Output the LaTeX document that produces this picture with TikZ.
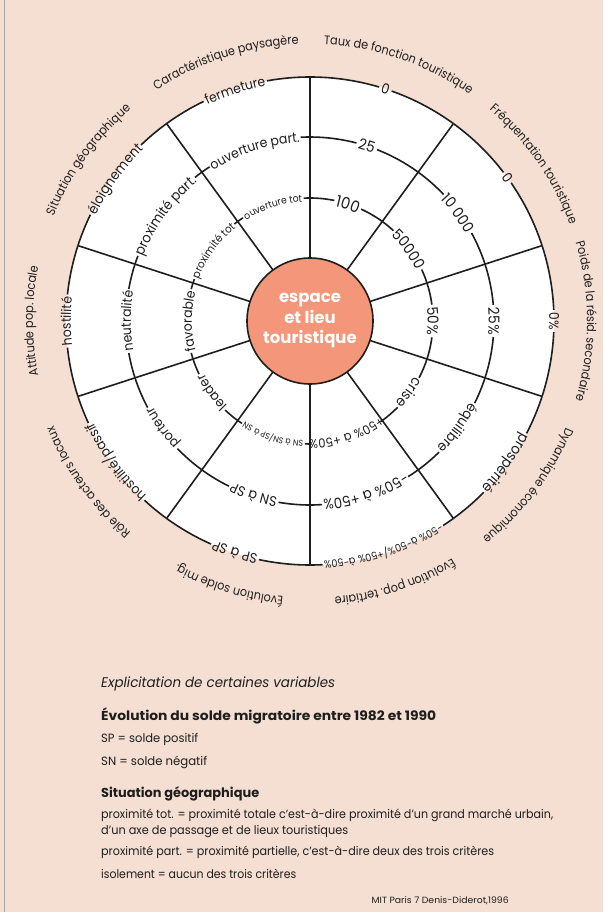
\documentclass[tikz,border=0pt]{standalone}
\usepackage{fontspec}
\usepackage{graphicx}
\setmainfont{Poppins}
\newfontfamily\ringfont[FakeStretch=0.92]{Poppins}
\newfontfamily\catfont[FakeStretch=0.9]{Poppins}
\usetikzlibrary{decorations.text}
\definecolor{bgpeach}{HTML}{F5DFD2}
\definecolor{salmon}{HTML}{F39679}
\definecolor{inkc}{HTML}{1E1E1E}
\newdimen\labw
\newcommand\ringlab[4]{%
  \pgfinterruptpicture
    \setbox0=\hbox{\ringfont\fontsize{#3}{#3}\selectfont #4}%
    \global\labw=\wd0
  \endpgfinterruptpicture
  \pgfmathsetmacro\myha{min((\labw/2+2.5)/#2*57.29578,17.2)}%
  \pgfmathsetmacro\mysa{#1+18}\pgfmathsetmacro\mysb{#1+\myha}%
  \pgfmathsetmacro\mysc{#1-\myha}\pgfmathsetmacro\mysd{#1-18}%
  \draw[ring] (C) ++(\mysa:#2) arc[start angle=\mysa, end angle=\mysb, radius=#2];
  \draw[ring] (C) ++(\mysc:#2) arc[start angle=\mysc, end angle=\mysd, radius=#2];
  \pgfmathsetmacro\myrb{#2-0.36*#3}%
  \pgfmathsetmacro\mypa{#1+40}\pgfmathsetmacro\mypb{#1-40}%
  \path[decorate, decoration={text along path, text align=center,
     text color=inkc, text={|\ringfont\fontsize{#3}{#3}\selectfont|#4}}]
     (C) ++(\mypa:\myrb) arc[start angle=\mypa, end angle=\mypb, radius=\myrb];
}
\newcommand\catlab[2]{%
  \pgfmathsetmacro\mypa{#1+45}\pgfmathsetmacro\mypb{#1-45}%
  \path[decorate, decoration={text along path, text align=center,
     text color=inkc, text={|\catfont\fontsize{12.5}{12.5}\selectfont|#2}}]
     (C) ++(\mypa:277) arc[start angle=\mypa, end angle=\mypb, radius=277];
}
\newcommand\legline[4]{%
  \node[anchor=base west, inner sep=0, text=inkc] (#4) at (101,-#1) {\resizebox{#2pt}{\height}{#3}};
}
\begin{document}
\begin{tikzpicture}[x=1pt,y=1pt, ring/.style={line width=1.6pt, draw=inkc}]
\fill[bgpeach] (0,0) rectangle (603,-912);
\useasboundingbox (0,0) rectangle (603,-912);
\draw[gray!70, line width=0.8pt] (4.5,0) -- (4.5,-912);
\coordinate (C) at (310,-321);
\fill[white] (C) circle[radius=244];
% radial lines
\foreach \a in {90,54,...,-234} \draw[ring] (C) ++(\a:63) -- ++(\a:181);
% ring labels
\ringlab{72}{244}{14}{0}
\ringlab{72}{184}{15}{25}
\ringlab{72}{123}{16}{100}
\ringlab{36}{244}{14}{0}
\ringlab{36}{184}{15}{10 000}
\ringlab{36}{123}{15}{50000}
\ringlab{0}{244}{13.5}{0{\%}}
\ringlab{0}{184}{15}{25{\%}}
\ringlab{0}{123}{15}{50{\%}}
\ringlab{-36}{244}{14.5}{prospérité}
\ringlab{-36}{184}{14}{équilibre}
\ringlab{-36}{123}{14.5}{crise}
\ringlab{-72}{244}{10.5}{-50{\%} à-50{\%}/+50{\%} à-50{\%}}
\ringlab{-72}{184}{14.5}{-50{\%} à +50{\%}}
\ringlab{-72}{123}{12.5}{+50{\%} à +50{\%}}
\ringlab{-108}{244}{14}{SP à SP}
\ringlab{-108}{184}{14}{SN à SP}
\ringlab{-108}{123}{8.5}{SN à SN/SP à SN}
\ringlab{-144}{244}{13.5}{hostilité/passif}
\ringlab{-144}{184}{13.5}{porteur}
\ringlab{-144}{123}{13.5}{leader}
\ringlab{180}{244}{13.5}{hostilité}
\ringlab{180}{184}{13.5}{neutralité}
\ringlab{180}{123}{13.5}{favorable}
\ringlab{144}{244}{14}{éloignement}
\ringlab{144}{184}{14}{proximité part.}
\ringlab{144}{123}{11}{proximité tot}
\ringlab{108}{244}{13.5}{fermeture}
\ringlab{108}{184}{13.5}{ouverture part.}
\ringlab{108}{123}{10}{ouverture tot}
% category labels
\catlab{71}{Taux de fonction touristique}
\catlab{35}{Fréquentation touristique}
\catlab{0}{Poids de la résid. secondaire}
\catlab{-37}{Dynamique économique}
\catlab{-72}{Évolution pop. tertiaire}
\catlab{-107}{Évolution solde mig.}
\catlab{-144}{Rôle des acteurs locaux}
\catlab{180}{Attitude pop. locale}
\catlab{144}{Situation géographique}
\catlab{108}{Caractéristique paysagère}
% centre
\node[circle, fill=salmon, draw=inkc, line width=1.6pt, minimum size=126pt, inner sep=0pt,
  align=center, text=white, font=\bfseries\fontsize{16.5}{20.5}\selectfont] (core) at (C)
  {espace\\et lieu\\touristique};
% legend
\legline{687}{234}{\fontsize{14}{16}\selectfont\itshape Explicitation de certaines variables}{lg1}
\legline{720}{335}{\fontsize{13}{16}\selectfont\bfseries Évolution du solde migratoire entre 1982 et 1990}{lg2}
\legline{742}{97}{\fontsize{12}{14}\selectfont SP = solde positif}{lg3}
\legline{765}{106}{\fontsize{12}{14}\selectfont SN = solde négatif}{lg4}
\legline{797}{158}{\fontsize{13}{16}\selectfont\bfseries Situation géographique}{lg5}
\legline{818}{452}{\fontsize{12}{14}\selectfont proximité tot. = proximité totale c’est-à-dire proximité d’un grand marché urbain,}{lg6}
\legline{834}{247}{\fontsize{12}{14}\selectfont d’un axe de passage et de lieux touristiques}{lg7}
\legline{855}{393}{\fontsize{12}{14}\selectfont proximité part. = proximité partielle, c’est-à-dire deux des trois critères}{lg8}
\legline{878}{195}{\fontsize{12}{14}\selectfont isolement = aucun des trois critères}{lg9}
\node[anchor=base west, inner sep=0, text=inkc] (src) at (371.5,-903)
  {\resizebox{137pt}{\height}{\fontsize{9}{10}\selectfont MIT Paris 7 Denis-Diderot,1996}};
\end{tikzpicture}
\end{document}
